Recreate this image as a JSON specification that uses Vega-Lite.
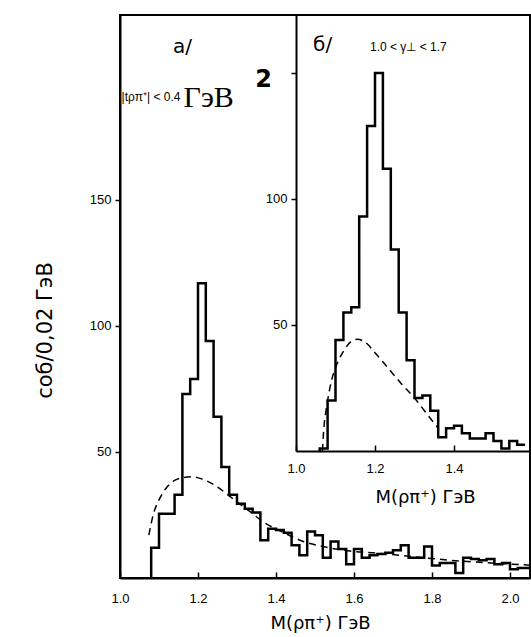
{
  "$schema": "https://vega.github.io/schema/vega-lite/v6.json",
  "width": 410,
  "height": 563,
  "autosize": {"type": "none"},
  "padding": {"left": 120, "top": 15, "right": 1, "bottom": 59},
  "background": "white",
  "config": {
    "view": {"stroke": "black", "strokeWidth": 2},
    "axis": {
      "domainColor": "black", "domainWidth": 2,
      "tickColor": "black", "tickWidth": 1.5,
      "labelColor": "black", "titleColor": "black",
      "grid": false, "labelFlush": false,
      "labelFont": "Liberation Sans", "labelFontSize": 13,
      "titleFont": "DejaVu Sans", "titleFontWeight": "normal"
    }
  },
  "datasets": {
    "mainHist": [
      {"m": 1.0799, "n": 0}, {"m": 1.08, "n": 12}, {"m": 1.10, "n": 25.5}, {"m": 1.12, "n": 25.5},
      {"m": 1.14, "n": 33}, {"m": 1.16, "n": 73}, {"m": 1.18, "n": 79}, {"m": 1.20, "n": 117},
      {"m": 1.22, "n": 94}, {"m": 1.24, "n": 64}, {"m": 1.26, "n": 44}, {"m": 1.28, "n": 33},
      {"m": 1.30, "n": 29.5}, {"m": 1.32, "n": 27.5}, {"m": 1.34, "n": 26}, {"m": 1.36, "n": 15},
      {"m": 1.38, "n": 19.5}, {"m": 1.40, "n": 19}, {"m": 1.42, "n": 18}, {"m": 1.44, "n": 13},
      {"m": 1.46, "n": 9}, {"m": 1.48, "n": 18.5}, {"m": 1.50, "n": 17}, {"m": 1.52, "n": 8},
      {"m": 1.54, "n": 14.5}, {"m": 1.56, "n": 11.5}, {"m": 1.58, "n": 5.5}, {"m": 1.60, "n": 11.5},
      {"m": 1.62, "n": 8}, {"m": 1.64, "n": 9}, {"m": 1.66, "n": 9.5}, {"m": 1.68, "n": 10},
      {"m": 1.70, "n": 11}, {"m": 1.72, "n": 13}, {"m": 1.74, "n": 8}, {"m": 1.76, "n": 8},
      {"m": 1.78, "n": 12.5}, {"m": 1.80, "n": 5}, {"m": 1.82, "n": 6}, {"m": 1.84, "n": 6},
      {"m": 1.86, "n": 2}, {"m": 1.88, "n": 8}, {"m": 1.90, "n": 7.5}, {"m": 1.92, "n": 7},
      {"m": 1.94, "n": 7.5}, {"m": 1.96, "n": 5.5}, {"m": 1.98, "n": 6}, {"m": 2.00, "n": 3.5},
      {"m": 2.02, "n": 4}, {"m": 2.04, "n": 4}, {"m": 2.06, "n": 4}
    ],
    "mainFit": [
      {"m": 1.074, "n": 17}, {"m": 1.085, "n": 25}, {"m": 1.10, "n": 31}, {"m": 1.12, "n": 36},
      {"m": 1.14, "n": 38.7}, {"m": 1.16, "n": 39.8}, {"m": 1.185, "n": 40.2}, {"m": 1.21, "n": 39.3},
      {"m": 1.245, "n": 36.6}, {"m": 1.285, "n": 32}, {"m": 1.33, "n": 26.7}, {"m": 1.37, "n": 22},
      {"m": 1.42, "n": 18}, {"m": 1.47, "n": 14.5}, {"m": 1.52, "n": 12.5}, {"m": 1.59, "n": 10.7},
      {"m": 1.65, "n": 10}, {"m": 1.75, "n": 8.5}, {"m": 1.85, "n": 7}, {"m": 1.95, "n": 6},
      {"m": 2.06, "n": 5}
    ],
    "insetHist": [
      {"m": 1.0599, "n": 0}, {"m": 1.06, "n": 1}, {"m": 1.08, "n": 20}, {"m": 1.10, "n": 44},
      {"m": 1.12, "n": 55}, {"m": 1.14, "n": 57}, {"m": 1.16, "n": 93}, {"m": 1.18, "n": 129},
      {"m": 1.20, "n": 150}, {"m": 1.22, "n": 112}, {"m": 1.24, "n": 80}, {"m": 1.26, "n": 55},
      {"m": 1.28, "n": 36}, {"m": 1.30, "n": 21}, {"m": 1.32, "n": 22}, {"m": 1.34, "n": 16},
      {"m": 1.36, "n": 5.5}, {"m": 1.38, "n": 9}, {"m": 1.40, "n": 10}, {"m": 1.42, "n": 7},
      {"m": 1.44, "n": 5}, {"m": 1.46, "n": 5}, {"m": 1.48, "n": 7}, {"m": 1.50, "n": 4},
      {"m": 1.52, "n": 1}, {"m": 1.54, "n": 4}, {"m": 1.56, "n": 2.5}, {"m": 1.58, "n": 2.5}
    ],
    "insetFit": [
      {"m": 1.067, "n": 0}, {"m": 1.07, "n": 8}, {"m": 1.075, "n": 15}, {"m": 1.08, "n": 20},
      {"m": 1.09, "n": 28}, {"m": 1.10, "n": 33}, {"m": 1.12, "n": 39.5}, {"m": 1.14, "n": 43.5},
      {"m": 1.155, "n": 44.3}, {"m": 1.175, "n": 43.2}, {"m": 1.20, "n": 39}, {"m": 1.23, "n": 33.5},
      {"m": 1.265, "n": 27}, {"m": 1.30, "n": 21}, {"m": 1.33, "n": 15}, {"m": 1.36, "n": 9}
    ]
  },
  "layer": [
    {
      "encoding": {
        "x": {
          "field": "m", "type": "quantitative",
          "scale": {"domain": [1.0, 2.0513], "nice": false, "zero": false},
          "axis": {
            "orient": "bottom", "values": [1.0, 1.2, 1.4, 1.6, 1.8, 2.0], "format": ".1f",
            "tickSize": -6, "labelPadding": 20,
            "title": "M(ρπ⁺) ГэВ", "titleFontSize": 18,
            "titleX": 200, "titleY": 45, "titleBaseline": "middle"
          }
        },
        "y": {
          "field": "n", "type": "quantitative",
          "scale": {"domain": [0, 223.4], "nice": false},
          "axis": {
            "orient": "left", "values": [50, 100, 150], "tickSize": 5, "labelPadding": 4,
            "title": "соб/0,02 ГэВ", "titleFontSize": 21, "titleAngle": -90,
            "titleX": -75, "titleY": 315, "titleAlign": "center", "titleBaseline": "middle"
          }
        }
      },
      "layer": [
        {"data": {"name": "mainHist"}, "mark": {"type": "line", "interpolate": "step-after", "color": "black", "strokeWidth": 2.5, "clip": true}},
        {"data": {"name": "mainFit"}, "mark": {"type": "line", "interpolate": "monotone", "color": "black", "strokeWidth": 1.5, "strokeDash": [7, 5], "clip": true}},
        {"data": {"values": [{"m": 1.136, "n": 210.7, "t": "а/"}, {"m": 1.495, "n": 211.5, "t": "б/"}]},
         "mark": {"type": "text", "align": "left", "baseline": "middle", "fontSize": 20, "font": "DejaVu Sans", "color": "black"},
         "encoding": {"text": {"field": "t"}}},
        {"data": {"values": [{"m": 1.004, "n": 190.9, "t": "|tρπ⁺| < 0.4"}, {"m": 1.641, "n": 210.7, "t": "1.0 < γ⊥ < 1.7"}]},
         "mark": {"type": "text", "align": "left", "baseline": "middle", "fontSize": 12, "font": "Liberation Sans", "color": "black"},
         "encoding": {"text": {"field": "t"}}},
        {"data": {"values": [{"m": 1.163, "n": 190.5, "t": "ГэВ"}]},
         "mark": {"type": "text", "align": "left", "baseline": "middle", "fontSize": 30, "font": "Liberation Serif", "color": "black"},
         "encoding": {"text": {"field": "t"}}},
        {"data": {"values": [{"m": 1.347, "n": 197.5, "t": "2"}]},
         "mark": {"type": "text", "align": "left", "baseline": "middle", "fontSize": 24, "fontWeight": "bold", "font": "DejaVu Sans", "color": "black"},
         "encoding": {"text": {"field": "t"}}}
      ]
    },
    {
      "encoding": {
        "x": {
          "field": "m", "type": "quantitative",
          "scale": {"domain": [1.0, 1.5924], "nice": false, "zero": false, "range": [176, 410]},
          "axis": {
            "orient": "bottom", "offset": -127, "values": [1.0, 1.2, 1.4], "format": ".1f",
            "tickSize": -6, "labelPadding": 17,
            "title": "M(ρπ⁺) ГэВ", "titleFontSize": 18,
            "titleX": 305, "titleY": 46, "titleBaseline": "middle"
          }
        },
        "y": {
          "field": "n", "type": "quantitative",
          "scale": {"domain": [0, 173], "nice": false, "range": [436, 0]},
          "axis": {
            "orient": "left", "offset": -176, "values": [50, 100, 150], "tickSize": 5, "labelPadding": 4,
            "labelExpr": "datum.value == 150 ? '' : datum.label", "title": null
          }
        }
      },
      "layer": [
        {"data": {"name": "insetHist"}, "mark": {"type": "line", "interpolate": "step-after", "color": "black", "strokeWidth": 2.5}},
        {"data": {"name": "insetFit"}, "mark": {"type": "line", "interpolate": "monotone", "color": "black", "strokeWidth": 1.5, "strokeDash": [7, 5]}}
      ]
    }
  ],
  "resolve": {"scale": {"x": "independent", "y": "independent"}, "axis": {"x": "independent", "y": "independent"}}
}
